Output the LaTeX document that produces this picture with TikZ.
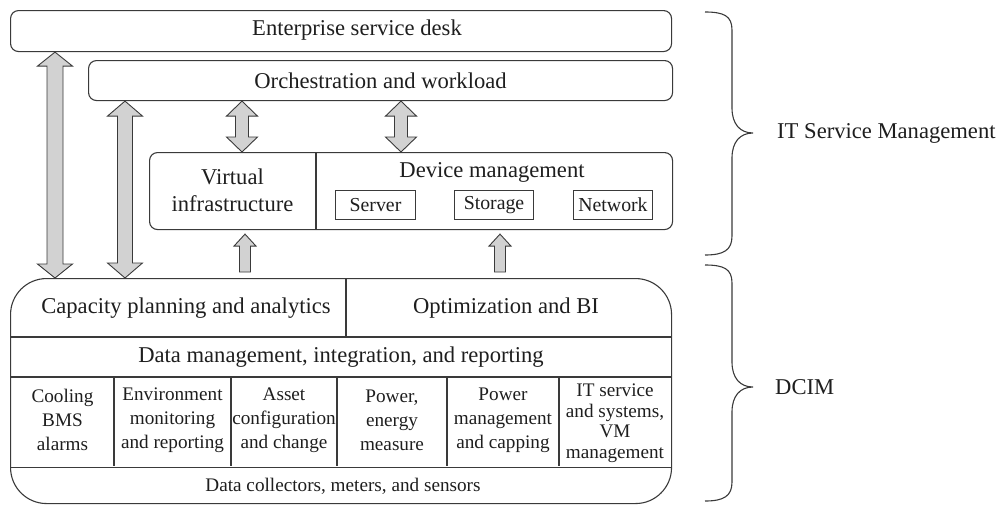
\documentclass[tikz,border=0pt]{standalone}
\usepackage{fontspec}
\setmainfont{Liberation Serif}
\usetikzlibrary{calc}
\definecolor{linec}{HTML}{3A3A3A}
\definecolor{textc}{HTML}{1E1E1E}
\definecolor{arrc}{HTML}{D2D2D2}
\newcommand\dblarrow[5]{%
 \draw[arr] let \p1=(#1),\p2=(#2) in
 (\x1,\y1) -- (\x1+#4pt,\y1-#5pt) -- (\x1+#3pt,\y1-#5pt) -- (\x1+#3pt,\y2+#5pt) -- (\x1+#4pt,\y2+#5pt) -- (\x1,\y2) -- (\x1-#4pt,\y2+#5pt) -- (\x1-#3pt,\y2+#5pt) -- (\x1-#3pt,\y1-#5pt) -- (\x1-#4pt,\y1-#5pt) -- cycle;}
\newcommand\singlearrow[5]{%
 \draw[arr] let \p1=(#1),\p2=(#2) in
 (\x1-#3pt,\y1) -- (\x1-#3pt,\y2-#5pt) -- (\x1-#4pt,\y2-#5pt) -- (\x1,\y2) -- (\x1+#4pt,\y2-#5pt) -- (\x1+#3pt,\y2-#5pt) -- (\x1+#3pt,\y1) -- cycle;}
\begin{document}
\begin{tikzpicture}[x=1pt,y=-1pt,
  box/.style={draw=linec, line width=1.1pt, rounded corners=8pt, inner sep=0pt, anchor=north west, text=textc},
  subbox/.style={draw=linec, line width=1pt, inner sep=0pt, anchor=north west, minimum width=79pt, minimum height=29pt, text=textc, font=\fontsize{19.8}{22}\selectfont},
  big/.style={font=\fontsize{22.6}{27}\selectfont, text=textc, align=center, inner sep=0pt},
  small/.style={font=\fontsize{19.2}{24}\selectfont, text=textc, align=center, inner sep=0pt},
  arr/.style={draw=linec, fill=arrc, line width=0.9pt, line join=miter},
  sep/.style={draw=linec, line width=1.1pt},
  brace/.style={draw=linec, line width=1.1pt}]
\useasboundingbox (0,0) rectangle (1002,504);

% top boxes
\node[box, minimum width=661pt, minimum height=41pt] (esd) at (10,10) {};
\node[big] (esdl) at (357,30.5) {Enterprise service desk};
\node[box, minimum width=584pt, minimum height=40pt, big] (orch) at (88,60) {Orchestration and workload};

% virtual / device box
\node[box, minimum width=523pt, minimum height=77pt] (vd) at (149,152) {};
\draw[sep] ([xshift=167pt]vd.north west) -- ([xshift=167pt]vd.south west);
\node[big] (virt) at (232.5,190) {Virtual\\infrastructure};
\node[big] (devm) at (492,172) {Device management};
\node[subbox, minimum width=80pt] (server) at (335,190) {Server};
\node[subbox] (storage) at (454,190) {Storage};
\node[subbox] (network) at (573,190) {Network};

% DCIM box
\node[box, rounded corners=36pt, minimum width=661pt, minimum height=225pt] (dcim) at (10,278) {};
\draw[sep] ([yshift=-59pt]dcim.north west) -- ([yshift=-59pt]dcim.north east);
\draw[sep] ([yshift=-99pt]dcim.north west) -- ([yshift=-99pt]dcim.north east);
\draw[sep] ([yshift=37pt]dcim.south west) -- ([yshift=37pt]dcim.south east);
\draw[sep] ([xshift=336pt]dcim.north west) -- ++(0,59);
\foreach \x in {104,221,327,437,549}
  \draw[sep] ([xshift=\x pt, yshift=-99pt]dcim.north west) -- ++(0,89);

\node[big] (cap) at (186,308) {Capacity planning and analytics};
\node[big] (opt) at (506,308) {Optimization and BI};
\node[big] (dm) at (341,357) {Data management, integration, and reporting};
\node[small] (c1) at (62.5,420) {Cooling\\BMS\\alarms};
\node[small] (c2) at (172.5,420) {Environment\\monitoring\\and reporting};
\node[small] (c3) at (284,420) {Asset\\configuration\\and change};
\node[small] (c4) at (392,420) {Power,\\energy\\measure};
\node[small] (c5) at (503,420) {Power\\management\\and capping};
\node[small, font=\fontsize{19.2}{20.5}\selectfont] (c6) at (615,423) {IT service\\and systems,\\VM\\management};
\node[small] (dc) at (343,486) {Data collectors, meters, and sensors};

% arrows
\coordinate (A1t) at ([xshift=45pt]esd.south west);
\coordinate (A1b) at (A1t |- dcim.north);
\coordinate (A2t) at ([xshift=37pt]orch.south west);
\coordinate (A2b) at (A2t |- dcim.north);
\coordinate (A3t) at ([xshift=154pt]orch.south west);
\coordinate (A3b) at (A3t |- vd.north);
\coordinate (A4t) at ([xshift=313pt]orch.south west);
\coordinate (A4b) at (A4t |- vd.north);
\dblarrow{A1t}{A1b}{8}{17.5}{14}
\dblarrow{A2t}{A2b}{7.5}{17.5}{15}
\dblarrow{A3t}{A3b}{6.5}{15.5}{15}
\dblarrow{A4t}{A4b}{6.5}{15.5}{15}
\coordinate (U1t) at ([xshift=96pt,yshift=-4pt]vd.south west);
\coordinate (U1b) at ([yshift=6pt]U1t |- dcim.north);
\coordinate (U2t) at ([xshift=351pt,yshift=-4pt]vd.south west);
\coordinate (U2b) at ([yshift=6pt]U2t |- dcim.north);
\singlearrow{U1b}{U1t}{5.5}{11}{12}
\singlearrow{U2b}{U2t}{5.5}{11}{12}

% braces
\draw[brace] (705,12) .. controls (724,12) and (732,16) .. (732,30) -- (732,108)
  .. controls (732,124) and (740,133) .. (753,133)
  .. controls (740,133) and (732,142) .. (732,158) -- (732,236)
  .. controls (732,250) and (724,255) .. (705,255);
\draw[brace] (705,265) .. controls (724,265) and (732,269) .. (732,283) -- (732,362)
  .. controls (732,378) and (740,387) .. (753,387)
  .. controls (740,387) and (732,396) .. (732,412) -- (732,482)
  .. controls (732,496) and (724,501) .. (705,501);
\node[big, anchor=west] (itsm) at (777,133) {IT Service Management};
\node[big, anchor=west] (dcimlab) at (775,387) {DCIM};
\end{tikzpicture}
\end{document}
